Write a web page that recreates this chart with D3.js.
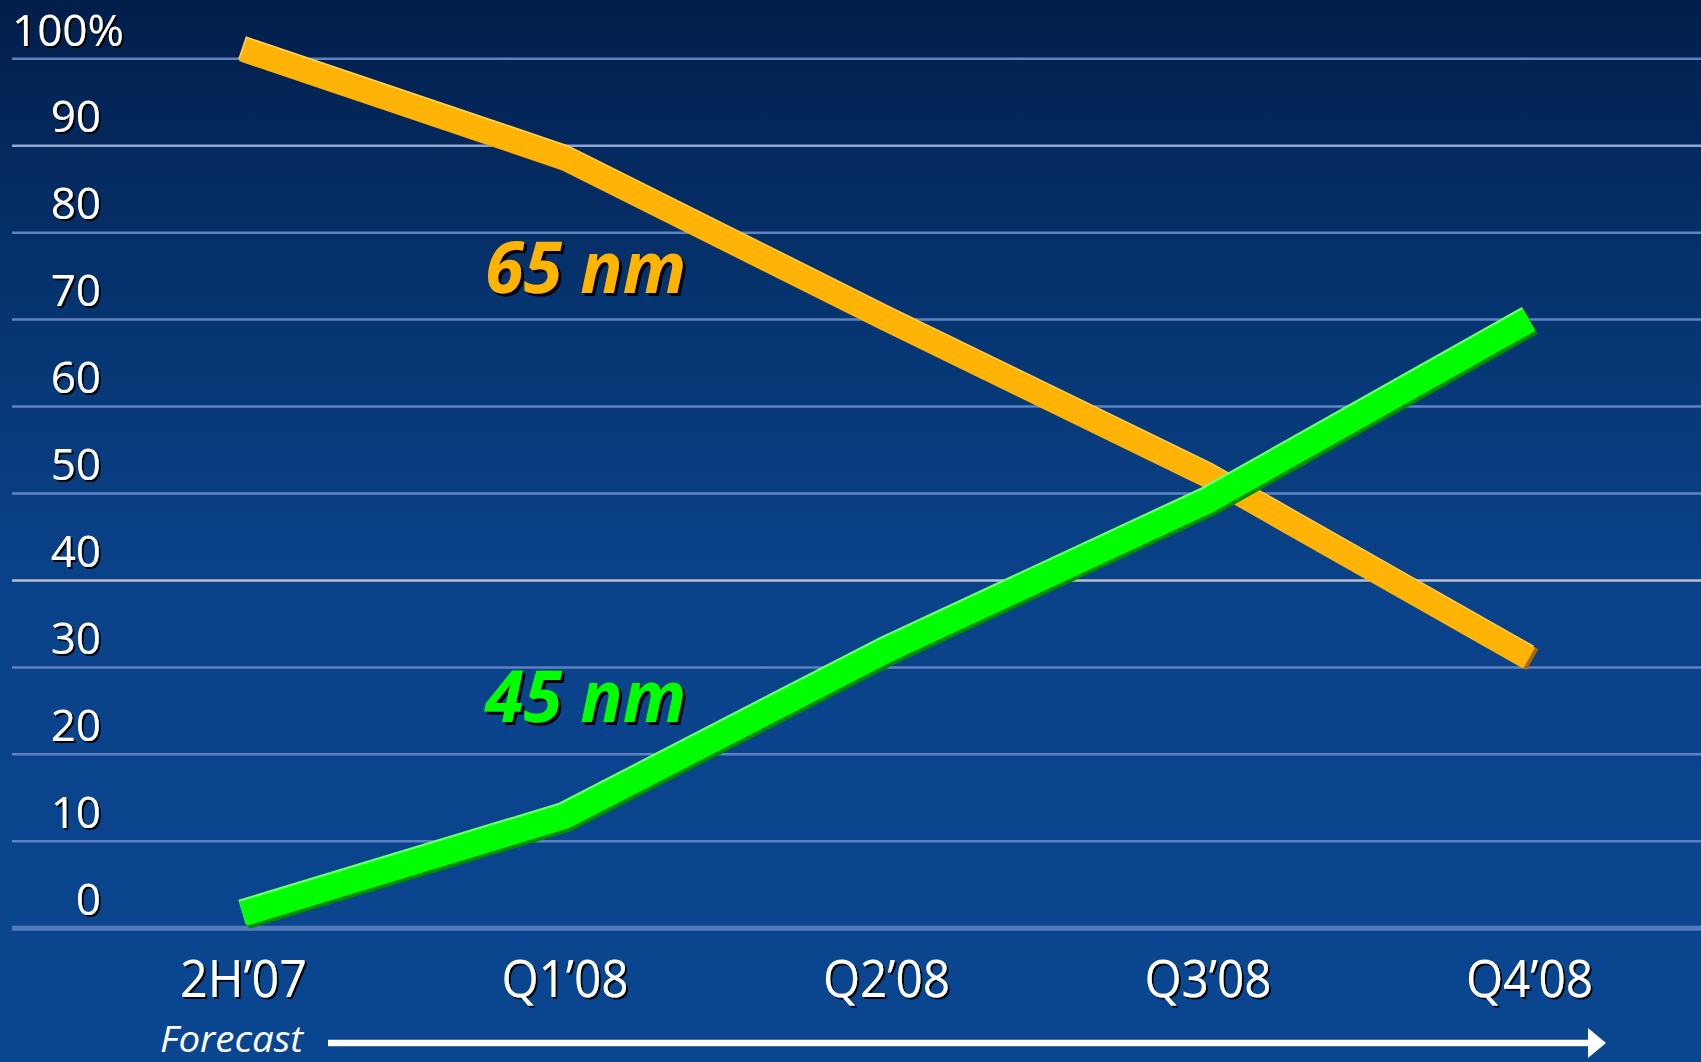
<!DOCTYPE html>
<html>
<head>
<meta charset="utf-8">
<script src="https://cdn.jsdelivr.net/npm/d3@7"></script>
<style>
  html, body { margin: 0; padding: 0; background: #0a4690; }
  svg { display: block; }
</style>
</head>
<body>
<script>
// Process-node share of output, by period (percent)
const categories = ["2H\u201907", "Q1\u201908", "Q2\u201908", "Q3\u201908", "Q4\u201908"];
const share65 = [101, 88.5, 70, 52, 31];
const share45 = [1.6, 12.8, 31.9, 49.1, 69.9];
const yTicks = [0, 10, 20, 30, 40, 50, 60, 70, 80, 90, 100];
const seriesNames = ["65 nm", "45 nm"];
const axisNote = "Forecast";

const W = 1701, H = 1062;

const svg = d3.select("body").append("svg")
  .attr("width", W).attr("height", H);

const defs = svg.append("defs");
const bg = defs.append("linearGradient").attr("id", "bg")
  .attr("x1", 0).attr("y1", 0).attr("x2", 0).attr("y2", 1);
[[0, "#021e4b"], [0.3, "#063571"], [0.55, "#0a4289"], [1, "#0a4690"]]
  .forEach(([o, c]) => bg.append("stop").attr("offset", o).attr("stop-color", c));

const sh = defs.append("filter").attr("id", "txtShadow")
  .attr("x", "-10%").attr("y", "-20%").attr("width", "130%").attr("height", "150%");
sh.append("feDropShadow").attr("dx", 2).attr("dy", 2).attr("stdDeviation", 0.4)
  .attr("flood-color", "#000").attr("flood-opacity", 0.95);

const sh2 = defs.append("filter").attr("id", "lblShadow")
  .attr("x", "-10%").attr("y", "-20%").attr("width", "130%").attr("height", "150%");
sh2.append("feDropShadow").attr("dx", 3).attr("dy", 3).attr("stdDeviation", 0.5)
  .attr("flood-color", "#000").attr("flood-opacity", 1);

svg.append("rect").attr("width", W).attr("height", H).attr("fill", "url(#bg)");

// Scales
const y = d3.scaleLinear().domain([0, 100]).range([927.7, 58.3]);
const x = d3.scalePoint().domain(categories).range([243, 1529]);

// Horizontal gridlines
const grid = svg.append("g")
  .attr("transform", "translate(12,0)")
  .call(d3.axisRight(y).tickValues(yTicks).tickSize(W - 12).tickFormat(""));
grid.select(".domain").remove();
grid.selectAll(".tick line")
  .attr("stroke", d => d === 40 ? "#b9c0cf" : d === 90 ? "#8ea6d0" : d === 0 ? "#5479b8" : "#5f82c0")
  .attr("stroke-width", d => d === 0 ? 5 : 2.5);

// Value labels on the left
const yAx = svg.append("g")
  .attr("transform", "translate(101,-13.5)")
  .call(d3.axisLeft(y).tickValues(yTicks).tickSize(0).tickPadding(0)
    .tickFormat(d => d === 100 ? "100%" : String(d)));
yAx.select(".domain").remove();
yAx.selectAll(".tick text")
  .attr("dy", d => d === 100 ? 1 : 0)
  .attr("x", d => d === 100 ? -89 : 0)
  .attr("text-anchor", d => d === 100 ? "start" : "end")
  .attr("fill", "#fff")
  .attr("font-family", "'Open Sans', sans-serif")
  .attr("font-size", 44)
  .attr("filter", "url(#txtShadow)");

// Period labels
const xAx = svg.append("g")
  .attr("transform", "translate(0,997)")
  .call(d3.axisBottom(x).tickSize(0).tickPadding(0));
xAx.select(".domain").remove();
xAx.selectAll(".tick text")
  .attr("y", 0).attr("dy", 0)
  .attr("fill", "#fff")
  .attr("font-family", "'Open Sans', sans-serif")
  .attr("font-size", 52)
  .attr("textLength", 127)
  .attr("lengthAdjust", "spacingAndGlyphs")
  .attr("filter", "url(#txtShadow)");

// Ribbon-style lines: dark depth, light top edge, then the face
const line = d3.line()
  .x((d, i) => x(categories[i]))
  .y(d => y(d));

function ribbon(values, face, light, dark, depth, width) {
  const g = svg.append("g");
  const common = sel => sel.attr("d", line(values)).attr("fill", "none")
    .attr("stroke-width", width).attr("stroke-linecap", "butt").attr("stroke-linejoin", "miter");
  g.append("path").call(common).attr("stroke", dark)
    .attr("transform", `translate(${depth[0]},${depth[1]})`);
  g.append("path").call(common).attr("stroke", light)
    .attr("transform", "translate(-1,-2)");
  g.append("path").call(common).attr("stroke", face);
}

ribbon(share65, "#ffb405", "#ffd25a", "#a46c00", [3.5, 1.5], 24);
ribbon(share45, "#00ff00", "#72ff72", "#008a00", [2.5, 3], 25);

// Series labels
const seriesLabel = [
  { text: seriesNames[0], color: "#ffb405", x: 485, y: 293 },
  { text: seriesNames[1], color: "#00ff00", x: 485, y: 722 }
];
svg.selectAll("text.series").data(seriesLabel).join("text")
  .attr("class", "series")
  .attr("x", d => d.x).attr("y", d => d.y)
  .attr("fill", d => d.color)
  .attr("font-family", "'Open Sans', sans-serif")
  .attr("font-weight", 700)
  .attr("font-style", "italic")
  .attr("font-size", 72)
  .attr("textLength", 201)
  .attr("lengthAdjust", "spacingAndGlyphs")
  .attr("filter", "url(#lblShadow)")
  .text(d => d.text);

// Forecast arrow
svg.append("text")
  .attr("x", 160).attr("y", 1052)
  .attr("fill", "#fff")
  .attr("font-family", "'Open Sans', sans-serif")
  .attr("font-style", "italic")
  .attr("font-size", 36)
  .attr("textLength", 143)
  .attr("lengthAdjust", "spacingAndGlyphs")
  .text(axisNote);
svg.append("line")
  .attr("x1", 328).attr("x2", 1590).attr("y1", 1043).attr("y2", 1043)
  .attr("stroke", "#fff").attr("stroke-width", 6.5);
svg.append("path")
  .attr("d", "M1588,1028 L1606,1043 L1588,1058 Z")
  .attr("fill", "#fff");
</script>
</body>
</html>
